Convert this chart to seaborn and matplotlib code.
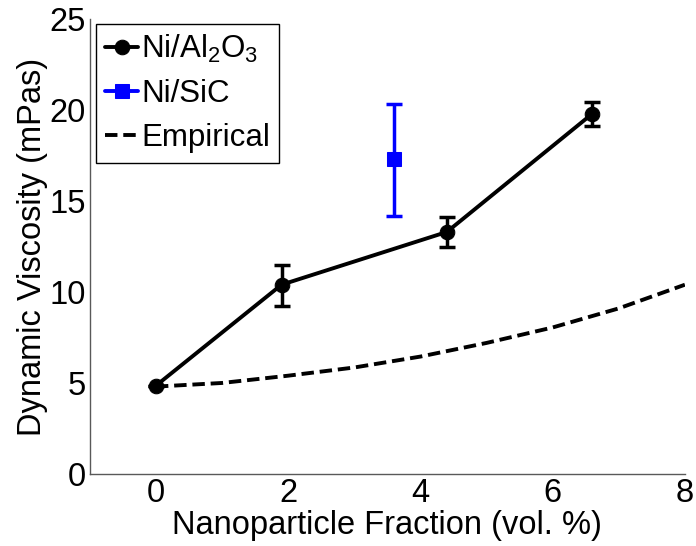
import matplotlib
matplotlib.use("Agg")
import matplotlib.pyplot as plt
import seaborn as sns
import pandas as pd

# Measured viscosity, Ni/Al2O3 nanofluid
al_frac = [0.0, 1.9, 4.4, 6.6]
al_visc = [4.85, 10.4, 13.3, 19.8]
al_err_lo = [0.0, 1.15, 0.8, 0.7]
al_err_hi = [0.0, 1.1, 0.8, 0.65]

# Measured viscosity, Ni/SiC nanofluid
sic_frac = [3.6]
sic_visc = [17.3]
sic_err_lo = [3.1]
sic_err_hi = [3.05]

# Empirical model curve
emp_frac = [0, 1, 2, 3, 4, 5, 6, 7, 8]
emp_visc = [4.8, 5.0, 5.4, 5.85, 6.45, 7.2, 8.05, 9.1, 10.4]

x_ticks = [0, 2, 4, 6, 8]
y_ticks = [0, 5, 10, 15, 20, 25]

sns.set_style("white")
plt.rcParams["font.family"] = ["Liberation Sans", "DejaVu Sans"]
plt.rcParams["mathtext.fontset"] = "custom"
plt.rcParams["mathtext.rm"] = "Liberation Sans"
plt.rcParams["mathtext.it"] = "Liberation Sans"
for key in ["text.color", "axes.labelcolor", "xtick.labelcolor", "ytick.labelcolor"]:
    plt.rcParams[key] = "black"

FS = 23.5
LEG_FS = 22.5

fig = plt.figure(figsize=(6.96, 5.46), dpi=100)
ax = fig.add_axes([0.129, 0.132, 0.855, 0.833])

df_al = pd.DataFrame({"frac": al_frac, "visc": al_visc})
df_sic = pd.DataFrame({"frac": sic_frac, "visc": sic_visc})
df_emp = pd.DataFrame({"frac": emp_frac, "visc": emp_visc})

sns.lineplot(data=df_emp, x="frac", y="visc", ax=ax, color="black",
             linestyle=(0, (3.2, 1.5)), linewidth=2.8, label="Empirical",
             zorder=2)
sns.lineplot(data=df_al, x="frac", y="visc", ax=ax, color="black",
             linewidth=2.8, marker="o", markersize=10.5, markeredgecolor="black",
             label="Ni/Al$_2$O$_3$", zorder=3)
ax.errorbar(al_frac, al_visc, yerr=[al_err_lo, al_err_hi], fmt="none",
            ecolor="black", elinewidth=2.5, capsize=5.5, capthick=2.5, zorder=3)
sns.lineplot(data=df_sic, x="frac", y="visc", ax=ax, color="#0000ff",
             linewidth=2.8, marker="s", markersize=10, markeredgecolor="#0000ff",
             label="Ni/SiC", zorder=3)
ax.errorbar(sic_frac, sic_visc, yerr=[sic_err_lo, sic_err_hi], fmt="none",
            ecolor="#0000ff", elinewidth=2.5, capsize=5.5, capthick=2.5, zorder=3)

ax.set_xlim(-1, 8)
ax.set_ylim(0, 25)
ax.set_xticks(x_ticks)
ax.set_yticks(y_ticks)
ax.set_xlabel("Nanoparticle Fraction (vol. %)", fontsize=FS, labelpad=1)
ax.set_ylabel("Dynamic Viscosity (mPas)", fontsize=FS, labelpad=1)
ax.tick_params(axis="both", direction="in", length=5, width=1,
               labelsize=FS, color="0.3", pad=3)

for side in ["top", "right"]:
    ax.spines[side].set_visible(False)
for side in ["left", "bottom"]:
    ax.spines[side].set_color("0.35")
    ax.spines[side].set_linewidth(1.0)

handles, labels = ax.get_legend_handles_labels()
order = [labels.index("Ni/Al$_2$O$_3$"), labels.index("Ni/SiC"),
         labels.index("Empirical")]
leg = ax.legend([handles[i] for i in order], [labels[i] for i in order],
                loc="upper left", bbox_to_anchor=(0.01, 0.99),
                borderaxespad=0, fontsize=LEG_FS, handlelength=1.05,
                handletextpad=0.1, borderpad=0.3, labelspacing=0.45,
                fancybox=False, framealpha=1)
leg.get_frame().set_edgecolor("black")
leg.get_frame().set_linewidth(1.0)

fig.savefig("out.png", dpi=100)
